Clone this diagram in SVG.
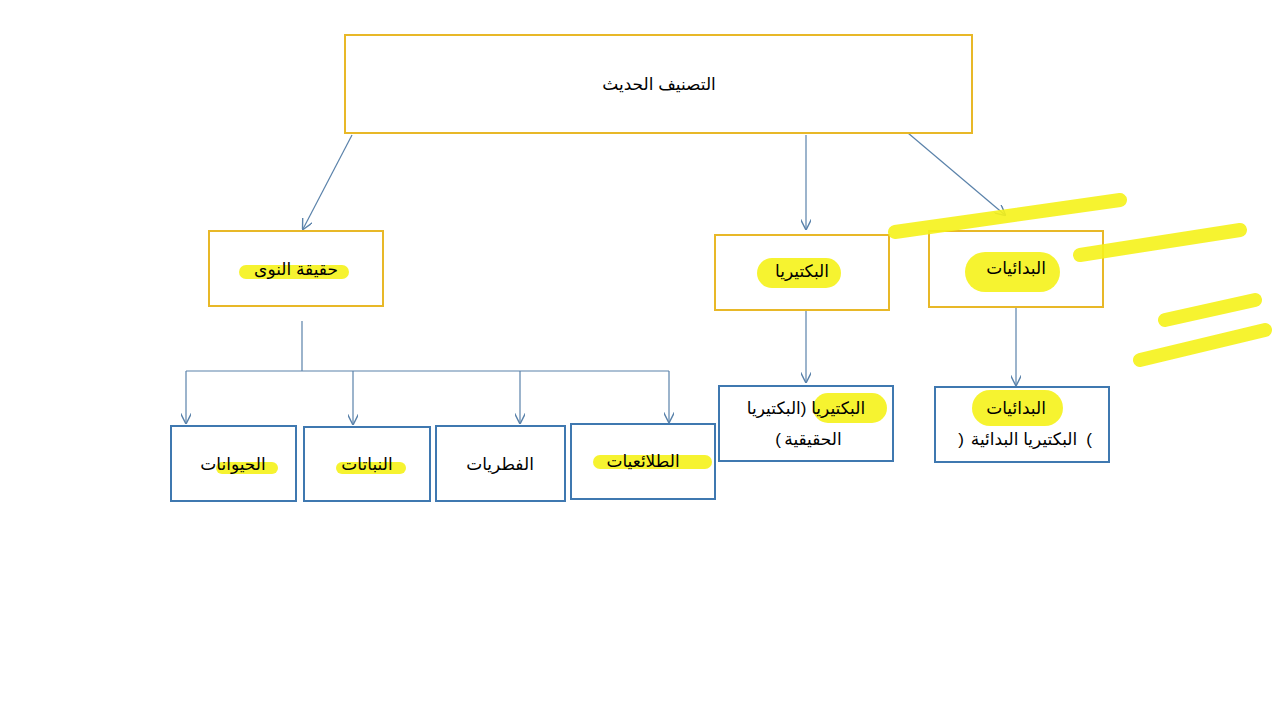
<svg xmlns="http://www.w3.org/2000/svg" width="1280" height="720" viewBox="0 0 1280 720">
<style>
.g{fill:#fff;stroke:#e8b828;stroke-width:2}
.b{fill:#fff;stroke:#3f78b0;stroke-width:2}
.t{font-family:"Liberation Sans","DejaVu Sans",sans-serif;font-size:17px;fill:#000;text-anchor:middle}
.p{direction:ltr;unicode-bidi:bidi-override}
.c{stroke:#5a82aa;stroke-width:1.2;fill:none}
.h{stroke:#f5f21a;stroke-linecap:round;fill:none;opacity:.9}
</style>
<defs><marker id="a" viewBox="0 0 10 10" refX="9" refY="5" markerWidth="9" markerHeight="9" orient="auto"><path d="M0,0L10,5L0,10" fill="none" stroke="#5a82aa" stroke-width="1.3"/></marker></defs>
<rect width="1280" height="720" fill="#fff"/>
<g id="connectors">
<line class="c" x1="352" y1="135" x2="303" y2="229" marker-end="url(#a)"/>
<line class="c" x1="806" y1="135" x2="806" y2="229" marker-end="url(#a)"/>
<line class="c" x1="908" y1="133" x2="1005" y2="215" marker-end="url(#a)"/>
<path class="c" d="M302,321V371M186,371H669"/>
<line class="c" x1="186" y1="371" x2="186" y2="423" marker-end="url(#a)"/>
<line class="c" x1="353" y1="371" x2="353" y2="424" marker-end="url(#a)"/>
<line class="c" x1="520" y1="371" x2="520" y2="423" marker-end="url(#a)"/>
<line class="c" x1="669" y1="371" x2="669" y2="422" marker-end="url(#a)"/>
<line class="c" x1="806" y1="310" x2="806" y2="382" marker-end="url(#a)"/>
<line class="c" x1="1016" y1="308" x2="1016" y2="385" marker-end="url(#a)"/>
</g>
<g id="n1"><rect class="g" x="345" y="35" width="627" height="98"/><text class="t" x="659" y="90">التصنيف الحديث</text></g>
<g id="n2"><rect class="g" x="209" y="231" width="174" height="75"/><path class="h" stroke-width="14" d="M246,272H342"/><text class="t" x="296" y="275">حقيقة النوى</text></g>
<g id="n3"><rect class="g" x="715" y="235" width="174" height="75"/><path class="h" stroke-width="30" d="M772,273H826"/><text class="t" x="802" y="277">البكتيريا</text></g>
<g id="n4"><rect class="g" x="929" y="231" width="174" height="76"/><path class="h" stroke-width="40" d="M985,272H1040"/><text class="t" x="1016" y="274">البدائيات</text></g>
<g id="n5"><rect class="b" x="171" y="426" width="125" height="75"/><path class="h" stroke-width="12" d="M222,468H272"/><text class="t" x="233" y="470">الحيوانات</text></g>
<g id="n6"><rect class="b" x="304" y="427" width="126" height="74"/><path class="h" stroke-width="12" d="M342,468H400"/><text class="t" x="367" y="470">النباتات</text></g>
<g id="n7"><rect class="b" x="436" y="426" width="129" height="75"/><text class="t" x="500" y="470">الفطريات</text></g>
<g id="n8"><rect class="b" x="571" y="424" width="144" height="75"/><path class="h" stroke-width="14" d="M600,462H705"/><text class="t" x="643" y="467">الطلائعيات</text></g>
<g id="n9"><rect class="b" x="719" y="386" width="174" height="75"/><path class="h" stroke-width="30" d="M828,408H872"/><text class="t" x="806" y="414">البكتيريا (البكتيريا</text><text class="t" x="813" y="445">الحقيقية</text><text class="t p" x="778" y="445" direction="ltr" unicode-bidi="bidi-override">(</text></g>
<g id="n10"><rect class="b" x="935" y="387" width="174" height="75"/><path class="h" stroke-width="36" d="M990,408H1045"/><text class="t" x="1016" y="414">البدائيات</text><text class="t" x="1024" y="445">البكتيريا البدائية</text><text class="t p" x="961" y="445" direction="ltr" unicode-bidi="bidi-override">)</text><text class="t p" x="1089" y="445" direction="ltr" unicode-bidi="bidi-override">(</text></g>
<g id="marks"><path class="h" stroke-width="14" d="M895,232L1120,200M1080,255L1240,230M1165,320L1255,300M1140,360L1265,330"/></g>
</svg>
